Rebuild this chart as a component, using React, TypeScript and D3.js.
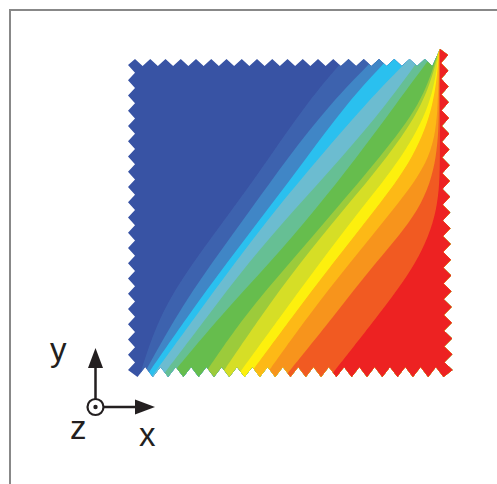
import React from "react";
import * as d3 from "d3";

const WIDTH = 497;
const HEIGHT = 484;

// Normalised height (0 = bottom, 100 = top) at which the band edges were read
const heights = [0, 19, 36, 52.5, 69, 86, 100];

// Horizontal position of each contour edge at those heights
const edge01 = [3.4, 9.3, 20, 32.3, 44, 55.5, 67.4];
const edge02 = [4.3, 14.6, 26, 38, 49.7, 63, 76.7];
const edge03 = [5.3, 18.3, 30.7, 43.2, 55.6, 68, 81];
const edge04 = [7.1, 20.8, 33.2, 45.7, 59.5, 74, 87.6];
const edge05 = [10.2, 24.5, 37.3, 51.5, 66.5, 80.7, 90.7];
const edge06 = [12.7, 28.3, 44.1, 58.1, 71.1, 83.5, 93.8];
const edge07 = [23, 35.7, 50.3, 64.3, 78.3, 91.3, 95.7];
const edge08 = [28.3, 41, 53.4, 66.8, 80.7, 92.2, 96];
const edge09 = [33.5, 47.2, 59.6, 72, 85.4, 94.4, 96.3];
const edge10 = [37, 50.9, 63.7, 76.7, 89.1, 95.3, 96.4];
const edge11 = [42.2, 55.6, 68.9, 82.3, 95, 96.3, 96.6];
const edge12 = [48.4, 63.7, 76.7, 91.3, 96.3, 96.6, 96.7];
const edge13 = [62.4, 77.3, 90.1, 96.6, 96.9, 96.9, 96.9];
const edges = [edge01, edge02, edge03, edge04, edge05, edge06, edge07, edge08, edge09, edge10, edge11, edge12, edge13];

const baseColor = "#3953a4";
const bandColors = [
  "#3d62ae", "#3f86c6", "#29c0ef", "#6cbcd0", "#66bf94", "#66bd4e", "#9ccb3b",
  "#d6de26", "#fdf00c", "#fdb913", "#f7941d", "#f15a24", "#ed2224",
];

const axisLabels = ["x", "y", "z"];

const x = d3.scaleLinear().domain([0, 100]).range([128, 450]);
const y = d3.scaleLinear().domain([0, 100]).range([378, 58]);

const edgeLine = d3
  .line<number>()
  .x((d) => x(d))
  .y((_, i) => y(heights[i]))
  .curve(d3.curveBasis);

// Serrated outline of the plate, clockwise from the top left
const TEETH = 20;
function outline(): string {
  const pts: [number, number][] = [];
  d3.range(TEETH).forEach((i) => {
    pts.push([135 + 15.25 * i, 59]);
    pts.push([142.6 + 15.25 * i, 66]);
  });
  pts.push([440, 49]);
  d3.range(TEETH + 1).forEach((i) => {
    const t = i / TEETH;
    pts.push([448 + 4.5 * t, 55 + 15.75 * i]);
    if (i < TEETH) pts.push([441 + 3.5 * t, 62.9 + 15.75 * i]);
  });
  d3.range(TEETH, -1, -1).forEach((i) => {
    pts.push([137.5 + 15.3 * i, 377]);
    if (i > 0) pts.push([129.9 + 15.3 * i, 367]);
  });
  d3.range(TEETH, -1, -1).forEach((i) => {
    pts.push([128, 65 + 15.25 * i]);
    if (i > 0) pts.push([135, 57.4 + 15.25 * i]);
  });
  return "M" + pts.map((p) => p.join(",")).join("L") + "Z";
}

function regionRightOf(edge: number[]): string {
  const last = edge[edge.length - 1];
  return `${edgeLine(edge)}L${x(last)},${y(106)}L${x(104)},${y(106)}L${x(104)},${y(0)}Z`;
}

export default function App() {
  const ink = "#231f20";
  const ox = 95.5;
  const oy = 407;
  return (
    <svg
      width={WIDTH}
      height={HEIGHT}
      viewBox={`0 0 ${WIDTH} ${HEIGHT}`}
      style={{ position: "absolute", left: 0, top: 0, background: "#fff" }}
      fontFamily="'Liberation Sans', Arial, sans-serif"
    >
      <defs>
        <clipPath id="plate">
          <path d={outline()} />
        </clipPath>
        <filter id="soft" x="-5%" y="-5%" width="110%" height="110%">
          <feGaussianBlur stdDeviation="0.6" />
        </filter>
      </defs>

      <path d={`M10,${HEIGHT}V10H${WIDTH}`} fill="none" stroke="#888" strokeWidth={2} />

      <g filter="url(#soft)">
        <g clipPath="url(#plate)">
          <rect x={x(-2)} y={y(106)} width={x(106) - x(-2)} height={y(-4) - y(106)} fill={baseColor} />
          {edges.map((edge, i) => (
            <path key={i} d={regionRightOf(edge)} fill={bandColors[i]} />
          ))}
        </g>
      </g>

      <g fill={ink} stroke="none">
        <rect x={ox - 1.25} y={366} width={2.5} height={oy - 366 - 8} />
        <rect x={ox + 8} y={oy - 1.25} width={135 - ox - 8} height={2.5} />
        <path d={`M${ox},348L${ox + 7.5},368H${ox - 7.5}Z`} />
        <path d={`M155,${oy}L135,${oy - 7.5}V${oy + 7.5}Z`} />
        <circle cx={ox} cy={oy} r={2.2} />
      </g>
      <circle cx={ox} cy={oy} r={8} fill="none" stroke={ink} strokeWidth={2.2} />

      <g fill={ink} fontSize={33}>
        <text x={139} y={446}>{axisLabels[0]}</text>
        <text x={50} y={361}>{axisLabels[1]}</text>
        <text x={70} y={439}>{axisLabels[2]}</text>
      </g>
    </svg>
  );
}
